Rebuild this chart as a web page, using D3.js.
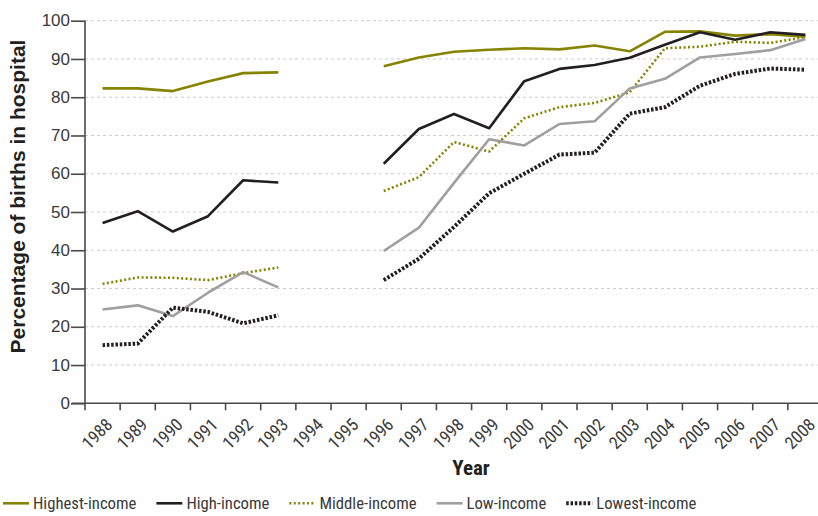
<!DOCTYPE html>
<html>
<head>
<meta charset="utf-8">
<script src="https://cdn.jsdelivr.net/npm/d3@7"></script>
<style>
  body { margin: 0; background: #fff; }
  svg { display: block; }
</style>
</head>
<body>
<div id="chart"></div>
<script>

// data

var years = ["1988", "1989", "1990", "1991", "1992", "1993", "1994", "1995", "1996", "1997",
  "1998", "1999", "2000", "2001", "2002", "2003", "2004", "2005", "2006", "2007", "2008"];

var highestIncome = [82.3, 82.3, 81.6, 84.1, 86.3, 86.5, null, null,
  88.1, 90.4, 91.9, 92.4, 92.8, 92.5, 93.5, 92.0, 97.1, 97.2, 96.1, 96.5, 95.8];
var highIncome = [47.1, 50.2, 44.9, 48.9, 58.3, 57.7, null, null,
  62.6, 71.7, 75.6, 71.9, 84.2, 87.4, 88.4, 90.3, 93.7, 97.0, 95.0, 97.0, 96.3];
var middleIncome = [31.2, 32.9, 32.8, 32.2, 34.0, 35.5, null, null,
  55.5, 59.1, 68.3, 65.8, 74.5, 77.4, 78.5, 81.3, 92.8, 93.2, 94.5, 94.2, 95.7];
var lowIncome = [24.5, 25.6, 22.8, 28.9, 34.3, 30.3, null, null,
  39.8, 45.9, 57.6, 69.0, 67.4, 73.0, 73.7, 82.3, 84.8, 90.4, 91.3, 92.3, 95.2];
var lowestIncome = [15.2, 15.6, 25.0, 23.9, 20.9, 23.0, null, null,
  32.2, 37.8, 46.1, 54.9, 60.0, 65.0, 65.5, 75.7, 77.4, 83.0, 86.1, 87.5, 87.2];

var seriesNames = ["Highest-income", "High-income", "Middle-income", "Low-income", "Lowest-income"];
var yTicks = [0, 10, 20, 30, 40, 50, 60, 70, 80, 90, 100];

// line styles

var olive = "#878300";
var styles = [
  { color: olive, width: 2.6, dash: null },
  { color: "#231f20", width: 2.6, dash: null },
  { color: olive, width: 2.6, dash: "2,2.4" },
  { color: "#9f9f9f", width: 2.6, dash: null },
  { color: "#231f20", width: 4, dash: "2.5,1.8" }
];

var series = [highestIncome, highIncome, middleIncome, lowIncome, lowestIncome].map(function (values, i) {
  return { name: seriesNames[i], values: values, style: styles[i] };
});

// initial settings

var svgWidth = 818;
var svgHeight = 516;

var margin = { top: 20.7, left: 85, bottom: 403.3, right: 823 };

var narrow = "'Roboto Condensed', 'DejaVu Sans Condensed', sans-serif";
var regular = "'Liberation Sans', Arial, sans-serif";

// create svg element

var svg = d3.select("#chart")
  .append("svg")
  .attr("width", svgWidth)
  .attr("height", svgHeight);

// scales

var xband = d3.scaleBand()
  .domain(years)
  .range([margin.left, margin.right]);

var bw = xband.bandwidth();

var yline = d3.scaleLinear()
  .domain([0, 100])
  .range([margin.bottom, margin.top]);

// gridlines

svg.append("g")
  .selectAll("line")
  .data(yTicks.filter(d => d > 0))
  .enter()
  .append("line")
  .attr("x1", margin.left)
  .attr("x2", svgWidth)
  .attr("y1", d => yline(d))
  .attr("y2", d => yline(d))
  .attr("stroke", "#cccccc")
  .attr("stroke-width", 1)
  .attr("stroke-dasharray", "3,3");

// y axis

var left = d3.axisLeft(yline)
  .tickValues(yTicks)
  .tickSize(14)
  .tickPadding(1);

var yaxis = svg.append("g")
  .attr("transform", `translate(${margin.left}, 0)`)
  .call(left);

yaxis.select(".domain").remove();
yaxis.append("line")
  .attr("x1", 0).attr("x2", 0)
  .attr("y1", yline(100)).attr("y2", margin.bottom + 7)
  .attr("stroke", "#4a4a4a")
  .attr("stroke-width", 1.6);

yaxis.selectAll(".tick line")
  .attr("stroke", "#4a4a4a")
  .attr("stroke-width", 1.6);

yaxis.selectAll(".tick text")
  .attr("font-family", regular)
  .attr("font-size", 17)
  .attr("fill", "#3a3a3a")
  .attr("dy", "0.3em");

// x axis, ticks sit between the years

var xaxis = svg.append("g");

xaxis.append("line")
  .attr("x1", margin.left - 13)
  .attr("x2", svgWidth)
  .attr("y1", margin.bottom)
  .attr("y2", margin.bottom)
  .attr("stroke", "#4a4a4a")
  .attr("stroke-width", 1.6);

xaxis.selectAll(".xtick")
  .data(years.slice(1))
  .enter()
  .append("line")
  .attr("class", "xtick")
  .attr("x1", d => xband(d))
  .attr("x2", d => xband(d))
  .attr("y1", margin.bottom)
  .attr("y2", margin.bottom + 7)
  .attr("stroke", "#4a4a4a")
  .attr("stroke-width", 1.6);

xaxis.selectAll(".xlabel")
  .data(years)
  .enter()
  .append("text")
  .attr("class", "xlabel")
  .attr("transform", d => `translate(${xband(d) + bw / 2 + 11}, ${margin.bottom + 22.5}) rotate(-45)`)
  .attr("text-anchor", "end")
  .attr("font-family", narrow)
  .attr("font-size", 17.5)
  .attr("fill", "#3a3a3a")
  .text(d => d);

// axis titles

svg.append("text")
  .attr("transform", "translate(25, 196.5) rotate(-90)")
  .attr("text-anchor", "middle")
  .attr("font-family", regular)
  .attr("font-weight", "bold")
  .attr("font-size", 21)
  .attr("fill", "#231f20")
  .text("Percentage of births in hospital");

svg.append("text")
  .attr("x", 471)
  .attr("y", 474.5)
  .attr("text-anchor", "middle")
  .attr("font-family", narrow)
  .attr("font-weight", "bold")
  .attr("font-size", 21)
  .attr("fill", "#231f20")
  .text("Year");

// lines

var line = d3.line()
  .defined(d => d != null)
  .x((d, i) => xband(years[i]) + bw / 2)
  .y(d => yline(d));

svg.append("g")
  .selectAll("path")
  .data(series)
  .enter()
  .append("path")
  .attr("d", d => line(d.values))
  .attr("fill", "none")
  .attr("stroke", d => d.style.color)
  .attr("stroke-width", d => d.style.width)
  .attr("stroke-dasharray", d => d.style.dash)
  .attr("stroke-linejoin", "round");

// legend

var legend = svg.append("g");
var lx = 3;

series.forEach(function (s) {
  legend.append("line")
    .attr("x1", lx)
    .attr("x2", lx + 26)
    .attr("y1", 503.3)
    .attr("y2", 503.3)
    .attr("stroke", s.style.color)
    .attr("stroke-width", s.style.width)
    .attr("stroke-dasharray", s.style.dash);

  var t = legend.append("text")
    .attr("x", lx + 30)
    .attr("y", 509)
    .attr("font-family", narrow)
    .attr("font-size", 16.7)
    .attr("fill", "#3a3a3a")
    .text(s.name);

  lx += 30 + t.node().getComputedTextLength() + 20;
});

</script>
</body>
</html>
